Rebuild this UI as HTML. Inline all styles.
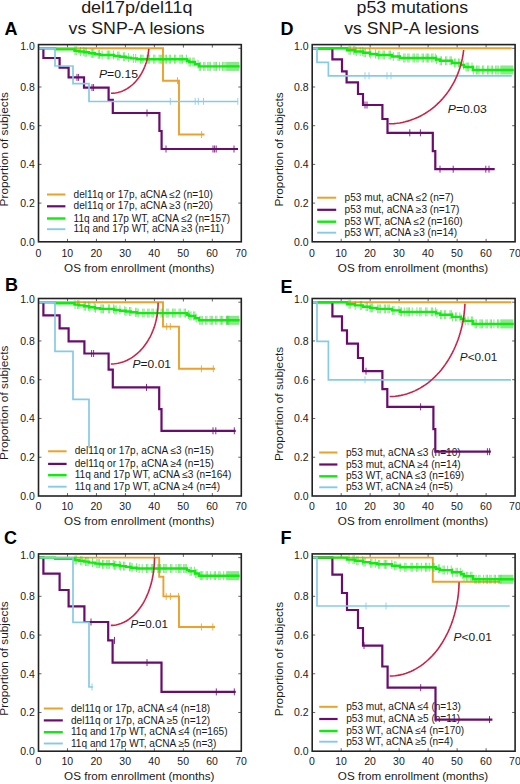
<!DOCTYPE html><html><head><meta charset="utf-8"><style>html,body{margin:0;padding:0;background:#fff;}svg{display:block;}text{font-family:"Liberation Sans", sans-serif;}</style></head><body>
<svg width="520" height="784" viewBox="0 0 520 784">
<rect width="520" height="784" fill="#fff"/>
<text x="136.8" y="13.3" font-size="16.4" text-anchor="middle" font-weight="normal" font-style="normal" fill="#1a1a1a" textLength="111.3" lengthAdjust="spacingAndGlyphs">del17p/del11q</text>
<text x="136.6" y="34" font-size="16.4" text-anchor="middle" font-weight="normal" font-style="normal" fill="#1a1a1a" textLength="136" lengthAdjust="spacingAndGlyphs">vs SNP-A lesions</text>
<text x="412.3" y="13.4" font-size="16.4" text-anchor="middle" font-weight="normal" font-style="normal" fill="#1a1a1a" textLength="111.5" lengthAdjust="spacingAndGlyphs">p53 mutations</text>
<text x="411.7" y="34" font-size="16.4" text-anchor="middle" font-weight="normal" font-style="normal" fill="#1a1a1a" textLength="135" lengthAdjust="spacingAndGlyphs">vs SNP-A lesions</text>
<text x="4.6" y="34.6" font-size="18" text-anchor="start" font-weight="bold" font-style="normal" fill="#000">A</text>
<text x="4.9" y="290.8" font-size="18" text-anchor="start" font-weight="bold" font-style="normal" fill="#000">B</text>
<text x="3.9" y="543.6" font-size="18" text-anchor="start" font-weight="bold" font-style="normal" fill="#000">C</text>
<text x="280.4" y="34.7" font-size="18" text-anchor="start" font-weight="bold" font-style="normal" fill="#000">D</text>
<text x="280.6" y="292.5" font-size="18" text-anchor="start" font-weight="bold" font-style="normal" fill="#000">E</text>
<text x="280.6" y="543.8" font-size="18" text-anchor="start" font-weight="bold" font-style="normal" fill="#000">F</text>
<path d="M67.47 241.8v-3M67.47 44.6v3M96.44 241.8v-3M96.44 44.6v3M125.41 241.8v-3M125.41 44.6v3M154.39 241.8v-3M154.39 44.6v3M183.36 241.8v-3M183.36 44.6v3M212.33 241.8v-3M212.33 44.6v3M38.5 203.1h3M241.3 203.1h-3M38.5 164.4h3M241.3 164.4h-3M38.5 125.7h3M241.3 125.7h-3M38.5 87h3M241.3 87h-3M38.5 48.3h3M241.3 48.3h-3" stroke="#666" stroke-width="1" fill="none"/>
<text x="34.8" y="245.7" font-size="10.5" text-anchor="end" font-weight="normal" font-style="normal" fill="#1a1a1a">0.0</text>
<text x="34.8" y="207" font-size="10.5" text-anchor="end" font-weight="normal" font-style="normal" fill="#1a1a1a">0.2</text>
<text x="34.8" y="168.3" font-size="10.5" text-anchor="end" font-weight="normal" font-style="normal" fill="#1a1a1a">0.4</text>
<text x="34.8" y="129.6" font-size="10.5" text-anchor="end" font-weight="normal" font-style="normal" fill="#1a1a1a">0.6</text>
<text x="34.8" y="90.9" font-size="10.5" text-anchor="end" font-weight="normal" font-style="normal" fill="#1a1a1a">0.8</text>
<text x="34.8" y="49.5" font-size="10.5" text-anchor="end" font-weight="normal" font-style="normal" fill="#1a1a1a">1.0</text>
<text x="38.3" y="256.8" font-size="10.5" text-anchor="middle" font-weight="normal" font-style="normal" fill="#1a1a1a">0</text>
<text x="67.27" y="256.8" font-size="10.5" text-anchor="middle" font-weight="normal" font-style="normal" fill="#1a1a1a">10</text>
<text x="96.24" y="256.8" font-size="10.5" text-anchor="middle" font-weight="normal" font-style="normal" fill="#1a1a1a">20</text>
<text x="125.21" y="256.8" font-size="10.5" text-anchor="middle" font-weight="normal" font-style="normal" fill="#1a1a1a">30</text>
<text x="154.19" y="256.8" font-size="10.5" text-anchor="middle" font-weight="normal" font-style="normal" fill="#1a1a1a">40</text>
<text x="183.16" y="256.8" font-size="10.5" text-anchor="middle" font-weight="normal" font-style="normal" fill="#1a1a1a">50</text>
<text x="212.13" y="256.8" font-size="10.5" text-anchor="middle" font-weight="normal" font-style="normal" fill="#1a1a1a">60</text>
<text x="241.1" y="256.8" font-size="10.5" text-anchor="middle" font-weight="normal" font-style="normal" fill="#1a1a1a">70</text>
<text x="139.3" y="271.5" font-size="11.7" text-anchor="middle" font-weight="normal" font-style="normal" fill="#1a1a1a" textLength="150.4" lengthAdjust="spacingAndGlyphs">OS from enrollment (months)</text>
<text x="0" y="0" font-size="11.6" text-anchor="middle" fill="#1a1a1a" textLength="114.3" lengthAdjust="spacingAndGlyphs" transform="translate(8.4 149.3) rotate(-90)">Proportion of subjects</text>
<path d="M47 194.5H65.4" stroke="#eba12a" stroke-width="2.0"/>
<text x="73.6" y="197.6" font-size="10.1" text-anchor="start" font-weight="normal" font-style="normal" fill="#1a1a1a">del11q or 17p, aCNA &#8804;2 (n=10)</text>
<path d="M47 206.3H65.4" stroke="#690c6e" stroke-width="2.2"/>
<text x="73.6" y="209.4" font-size="10.1" text-anchor="start" font-weight="normal" font-style="normal" fill="#1a1a1a">del11q or 17p, aCNA &#8805;3 (n=20)</text>
<path d="M47 218.5H65.4" stroke="#0aee0a" stroke-width="2.4"/>
<text x="73.6" y="221.6" font-size="10.1" text-anchor="start" font-weight="normal" font-style="normal" fill="#1a1a1a">11q and 17p WT, aCNA &#8804;2 (n=157)</text>
<path d="M47 229.2H65.4" stroke="#86cbe6" stroke-width="1.9"/>
<text x="73.6" y="232.3" font-size="10.1" text-anchor="start" font-weight="normal" font-style="normal" fill="#1a1a1a">11q and 17p WT, aCNA &#8805;3 (n=11)</text>
<path d="M38.5 48.3H163V80.7H179V134.5H204.5" fill="none" stroke="#eba12a" stroke-width="1.9" stroke-linejoin="miter" stroke-linecap="butt"/>
<path d="M177.5 77.2v7" stroke="#eba12a" stroke-width="1.0" opacity="0.85" fill="none"/>
<path d="M201.6 131v7" stroke="#eba12a" stroke-width="1.0" opacity="0.85" fill="none"/>
<path d="M38.5 48.3H43.4V58H59.6V67.6H68.6V77.4H84V87.6H108.6V99.8H112.8V113H159.4V131H161.6V149H238" fill="none" stroke="#690c6e" stroke-width="2.2" stroke-linejoin="miter" stroke-linecap="butt"/>
<path d="M77 73.9v7M78.6 73.9v7" stroke="#690c6e" stroke-width="1.0" opacity="0.85" fill="none"/>
<path d="M92 84.1v7M93.6 84.1v7" stroke="#690c6e" stroke-width="1.0" opacity="0.85" fill="none"/>
<path d="M147 109.5v7" stroke="#690c6e" stroke-width="1.0" opacity="0.85" fill="none"/>
<path d="M166 145.5v7M213 145.5v7M214.6 145.5v7M216.2 145.5v7M234 145.5v7" stroke="#690c6e" stroke-width="1.0" opacity="0.85" fill="none"/>
<path d="M75 46.2v9M76.3 46.2v9M80.59 47v9M83.76 47v9M85.06 47.8v9M86.36 47.8v9M91.23 48.8v9M92.53 48.8v9M93.83 48.8v9M98.25 49.8v9M99.55 49.8v9M102.14 50.5v9M107.2 50.5v9M108.5 50.5v9M109.8 50.5v9M113.4 50.5v9M117.73 51.5v9M119.03 51.5v9M123.39 52.3v9M124.69 52.3v9M128.62 53.1v9M133.35 53.9v9M135.7 53.9v9M140.43 54.7v9M141.73 54.7v9M143.03 54.7v9M147.05 54.7v9M148.35 54.7v9M149.65 54.7v9M153.69 54.7v9M154.99 54.7v9M159.05 54.7v9M160.35 54.7v9M161.65 54.7v9M165.18 54.7v9M166.48 54.7v9M169.28 54.7v9M170.58 54.7v9M174.45 54.7v9M175.75 54.7v9M179.89 54.7v9M181.19 54.7v9M182.49 54.7v9M186.39 54.7v9M189.03 57.5v9M190.33 57.5v9M192.84 57.5v9M194.14 57.5v9M197.98 59.7v9M199.28 61.9v9M200.58 61.9v9M203.7 61.9v9M205 61.9v9M207.77 61.9v9M209.07 61.9v9M210.37 61.9v9M213.93 61.9v9M215.23 61.9v9M216.53 61.9v9M219.65 61.9v9M222.58 61.9v9M223.88 61.9v9M225.18 61.9v9M226.7 61.9v9M227.7 61.9v9M228.7 61.9v9M229.7 61.9v9M230.7 61.9v9M231.7 61.9v9M232.7 61.9v9M233.7 61.9v9M234.7 61.9v9M235.7 61.9v9M236.7 61.9v9M237.7 61.9v9M238.7 61.9v9" stroke="#2ad42a" stroke-width="1" opacity="0.6" fill="none"/>
<path d="M38.5 48.3H55V49.4H74.5V50.7H79V51.5H84V52.3H89V53.3H95V54.3H100V55H114V56H120V56.8H126V57.6H131V58.4H137V59.2H187V60.8H189V62H195V64.2H199V66.4H239.7" fill="none" stroke="#0aee0a" stroke-width="2.4" stroke-linejoin="miter" stroke-linecap="butt"/>
<path d="M38.5 48.3H55V66H73V83.7H89V101.5H237.8" fill="none" stroke="#86cbe6" stroke-width="1.7" stroke-linejoin="miter" stroke-linecap="butt"/>
<path d="M170.3 97.8v7M195.2 97.8v7M198.3 97.8v7M203.5 97.8v7M237.8 97.8v7" stroke="#86cbe6" stroke-width="1.0" opacity="0.85" fill="none"/>
<path d="M111 93.3 L112.4 93.27 L113.79 93.17 L115.18 93 L116.57 92.77 L117.95 92.47 L119.32 92.1 L120.68 91.67 L122.02 91.18 L123.35 90.62 L124.66 90 L125.96 89.32 L127.23 88.58 L128.49 87.77 L129.71 86.91 L130.92 85.99 L132.09 85.01 L133.24 83.97 L134.36 82.88 L135.45 81.74 L136.5 80.55 L137.52 79.31 L138.5 78.02 L139.45 76.69 L140.35 75.31 L141.22 73.89 L142.05 72.42 L142.83 70.92 L143.57 69.39 L144.27 67.81 L144.92 66.21 L145.53 64.58 L146.09 62.92 L146.6 61.23 L147.07 59.52 L147.48 57.79 L147.85 56.04 L148.17 54.27 L148.43 52.49 L148.65 50.7 L148.81 48.9" fill="none" stroke="#cc2246" stroke-width="1.6"/>
<text x="99" y="78.1" font-size="11.7" fill="#1a1a1a" textLength="39" lengthAdjust="spacingAndGlyphs"><tspan font-style="italic">P</tspan>=0.15</text>
<rect x="38.5" y="44.6" width="202.8" height="197.2" fill="none" stroke="#222" stroke-width="1.6"/>
<path d="M67.47 496v-3M67.47 298.5v3M96.44 496v-3M96.44 298.5v3M125.41 496v-3M125.41 298.5v3M154.39 496v-3M154.39 298.5v3M183.36 496v-3M183.36 298.5v3M212.33 496v-3M212.33 298.5v3M38.5 457.24h3M241.3 457.24h-3M38.5 418.48h3M241.3 418.48h-3M38.5 379.72h3M241.3 379.72h-3M38.5 340.96h3M241.3 340.96h-3M38.5 302.2h3M241.3 302.2h-3" stroke="#666" stroke-width="1" fill="none"/>
<text x="34.8" y="499.9" font-size="10.5" text-anchor="end" font-weight="normal" font-style="normal" fill="#1a1a1a">0.0</text>
<text x="34.8" y="461.14" font-size="10.5" text-anchor="end" font-weight="normal" font-style="normal" fill="#1a1a1a">0.2</text>
<text x="34.8" y="422.38" font-size="10.5" text-anchor="end" font-weight="normal" font-style="normal" fill="#1a1a1a">0.4</text>
<text x="34.8" y="383.62" font-size="10.5" text-anchor="end" font-weight="normal" font-style="normal" fill="#1a1a1a">0.6</text>
<text x="34.8" y="344.86" font-size="10.5" text-anchor="end" font-weight="normal" font-style="normal" fill="#1a1a1a">0.8</text>
<text x="34.8" y="303.4" font-size="10.5" text-anchor="end" font-weight="normal" font-style="normal" fill="#1a1a1a">1.0</text>
<text x="38.3" y="509.8" font-size="10.5" text-anchor="middle" font-weight="normal" font-style="normal" fill="#1a1a1a">0</text>
<text x="67.27" y="509.8" font-size="10.5" text-anchor="middle" font-weight="normal" font-style="normal" fill="#1a1a1a">10</text>
<text x="96.24" y="509.8" font-size="10.5" text-anchor="middle" font-weight="normal" font-style="normal" fill="#1a1a1a">20</text>
<text x="125.21" y="509.8" font-size="10.5" text-anchor="middle" font-weight="normal" font-style="normal" fill="#1a1a1a">30</text>
<text x="154.19" y="509.8" font-size="10.5" text-anchor="middle" font-weight="normal" font-style="normal" fill="#1a1a1a">40</text>
<text x="183.16" y="509.8" font-size="10.5" text-anchor="middle" font-weight="normal" font-style="normal" fill="#1a1a1a">50</text>
<text x="212.13" y="509.8" font-size="10.5" text-anchor="middle" font-weight="normal" font-style="normal" fill="#1a1a1a">60</text>
<text x="241.1" y="509.8" font-size="10.5" text-anchor="middle" font-weight="normal" font-style="normal" fill="#1a1a1a">70</text>
<text x="139.3" y="524.6" font-size="11.7" text-anchor="middle" font-weight="normal" font-style="normal" fill="#1a1a1a" textLength="150.4" lengthAdjust="spacingAndGlyphs">OS from enrollment (months)</text>
<text x="0" y="0" font-size="11.6" text-anchor="middle" fill="#1a1a1a" textLength="114.3" lengthAdjust="spacingAndGlyphs" transform="translate(8.4 402.8) rotate(-90)">Proportion of subjects</text>
<path d="M48.1 451.3H66.6" stroke="#eba12a" stroke-width="2.0"/>
<text x="74.7" y="454.4" font-size="10.1" text-anchor="start" font-weight="normal" font-style="normal" fill="#1a1a1a">del11q or 17p, aCNA &#8804;3 (n=15)</text>
<path d="M48.1 463.9H66.6" stroke="#690c6e" stroke-width="2.2"/>
<text x="74.7" y="467" font-size="10.1" text-anchor="start" font-weight="normal" font-style="normal" fill="#1a1a1a">del11q or 17p, aCNA &#8805;4 (n=15)</text>
<path d="M48.1 475.2H66.6" stroke="#0aee0a" stroke-width="2.4"/>
<text x="74.7" y="478.3" font-size="10.1" text-anchor="start" font-weight="normal" font-style="normal" fill="#1a1a1a">11q and 17p WT, aCNA &#8804;3 (n=164)</text>
<path d="M48.1 486.7H66.6" stroke="#86cbe6" stroke-width="1.9"/>
<text x="74.7" y="489.8" font-size="10.1" text-anchor="start" font-weight="normal" font-style="normal" fill="#1a1a1a">11q and 17p WT, aCNA &#8805;4 (n=4)</text>
<path d="M38.5 302.2H163V326.6H179V368.8H215" fill="none" stroke="#eba12a" stroke-width="1.9" stroke-linejoin="miter" stroke-linecap="butt"/>
<path d="M166.7 323.1v7M170.3 323.1v7" stroke="#eba12a" stroke-width="1.0" opacity="0.85" fill="none"/>
<path d="M201.4 365.3v7M213.3 365.3v7" stroke="#eba12a" stroke-width="1.0" opacity="0.85" fill="none"/>
<path d="M38.5 302.2H43.4V315.4H59.6V328.4H68.6V341.4H84.4V353.5H108.6V369.7H112.8V387.4H159.2V409.2H161.5V430.8H235.7" fill="none" stroke="#690c6e" stroke-width="2.2" stroke-linejoin="miter" stroke-linecap="butt"/>
<path d="M91.6 350v7M93.6 350v7" stroke="#690c6e" stroke-width="1.0" opacity="0.85" fill="none"/>
<path d="M146.5 383.9v7" stroke="#690c6e" stroke-width="1.0" opacity="0.85" fill="none"/>
<path d="M213 427.3v7M215.8 427.3v7M234.3 427.3v7" stroke="#690c6e" stroke-width="1.0" opacity="0.85" fill="none"/>
<path d="M75 300.1v9M77.62 300.1v9M78.92 300.1v9M84.11 301.7v9M85.41 301.7v9M88.56 301.7v9M89.86 302.7v9M94.16 302.7v9M95.46 303.7v9M100.96 304.4v9M102.26 304.4v9M103.56 304.4v9M108.36 304.4v9M109.66 304.4v9M113.59 304.4v9M114.89 305.4v9M116.19 305.4v9M119.95 305.4v9M124.71 306.2v9M126.01 307v9M129.58 307v9M130.88 307v9M135.61 307.8v9M136.91 307.8v9M138.21 308.6v9M142.81 308.6v9M144.11 308.6v9M147.79 308.6v9M149.09 308.6v9M151.95 308.6v9M153.25 308.6v9M156.3 308.6v9M157.6 308.6v9M161.06 308.6v9M162.36 308.6v9M166.85 308.6v9M168.15 308.6v9M172.55 308.6v9M173.85 308.6v9M175.15 308.6v9M179.06 308.6v9M180.36 308.6v9M184.17 308.6v9M185.47 308.6v9M188.44 310.2v9M189.74 311.4v9M191.04 311.4v9M193.63 311.4v9M194.93 311.4v9M196.23 313.6v9M199.74 315.8v9M201.04 315.8v9M202.34 315.8v9M205.69 315.8v9M206.99 315.8v9M210.04 315.8v9M211.34 315.8v9M212.64 315.8v9M215.66 315.8v9M216.96 315.8v9M220.17 315.8v9M221.47 315.8v9M222.77 315.8v9M226.23 315.8v9M227.53 315.8v9M228.83 315.8v9M226.7 315.8v9M227.7 315.8v9M228.7 315.8v9M229.7 315.8v9M230.7 315.8v9M231.7 315.8v9M232.7 315.8v9M233.7 315.8v9M234.7 315.8v9M235.7 315.8v9M236.7 315.8v9M237.7 315.8v9M238.7 315.8v9" stroke="#2ad42a" stroke-width="1" opacity="0.6" fill="none"/>
<path d="M38.5 302.2H55V303.3H74.5V304.6H79V305.4H84V306.2H89V307.2H95V308.2H100V308.9H114V309.9H120V310.7H126V311.5H131V312.3H137V313.1H187V314.7H189V315.9H195V318.1H199V320.3H239.7" fill="none" stroke="#0aee0a" stroke-width="2.4" stroke-linejoin="miter" stroke-linecap="butt"/>
<path d="M38.5 302.2H55V351.4H73V399.4H89V447.6" fill="none" stroke="#86cbe6" stroke-width="1.7" stroke-linejoin="miter" stroke-linecap="butt"/>
<path d="M110.8 364 L112.66 363.95 L114.51 363.81 L116.36 363.58 L118.2 363.25 L120.03 362.82 L121.84 362.31 L123.64 361.7 L125.42 361 L127.17 360.21 L128.9 359.33 L130.6 358.37 L132.27 357.32 L133.91 356.18 L135.51 354.97 L137.08 353.67 L138.6 352.29 L140.08 350.84 L141.52 349.31 L142.91 347.71 L144.25 346.05 L145.53 344.31 L146.77 342.51 L147.95 340.65 L149.07 338.73 L150.13 336.76 L151.13 334.73 L152.07 332.65 L152.94 330.53 L153.76 328.36 L154.5 326.16 L155.18 323.92 L155.78 321.64 L156.32 319.34 L156.79 317.01 L157.19 314.66 L157.52 312.29 L157.77 309.91 L157.95 307.51 L158.06 305.11 L158.1 302.7" fill="none" stroke="#cc2246" stroke-width="1.6"/>
<text x="132.6" y="367.8" font-size="11.7" fill="#1a1a1a" textLength="38.4" lengthAdjust="spacingAndGlyphs"><tspan font-style="italic">P</tspan>=0.01</text>
<rect x="38.5" y="298.5" width="202.8" height="197.5" fill="none" stroke="#222" stroke-width="1.6"/>
<path d="M67.47 751.2v-3M67.47 553.9v3M96.44 751.2v-3M96.44 553.9v3M125.41 751.2v-3M125.41 553.9v3M154.39 751.2v-3M154.39 553.9v3M183.36 751.2v-3M183.36 553.9v3M212.33 751.2v-3M212.33 553.9v3M38.5 712.48h3M241.3 712.48h-3M38.5 673.76h3M241.3 673.76h-3M38.5 635.04h3M241.3 635.04h-3M38.5 596.32h3M241.3 596.32h-3M38.5 557.6h3M241.3 557.6h-3" stroke="#666" stroke-width="1" fill="none"/>
<text x="34.8" y="755.1" font-size="10.5" text-anchor="end" font-weight="normal" font-style="normal" fill="#1a1a1a">0.0</text>
<text x="34.8" y="716.38" font-size="10.5" text-anchor="end" font-weight="normal" font-style="normal" fill="#1a1a1a">0.2</text>
<text x="34.8" y="677.66" font-size="10.5" text-anchor="end" font-weight="normal" font-style="normal" fill="#1a1a1a">0.4</text>
<text x="34.8" y="638.94" font-size="10.5" text-anchor="end" font-weight="normal" font-style="normal" fill="#1a1a1a">0.6</text>
<text x="34.8" y="600.22" font-size="10.5" text-anchor="end" font-weight="normal" font-style="normal" fill="#1a1a1a">0.8</text>
<text x="34.8" y="558.8" font-size="10.5" text-anchor="end" font-weight="normal" font-style="normal" fill="#1a1a1a">1.0</text>
<text x="38.3" y="765.1" font-size="10.5" text-anchor="middle" font-weight="normal" font-style="normal" fill="#1a1a1a">0</text>
<text x="67.27" y="765.1" font-size="10.5" text-anchor="middle" font-weight="normal" font-style="normal" fill="#1a1a1a">10</text>
<text x="96.24" y="765.1" font-size="10.5" text-anchor="middle" font-weight="normal" font-style="normal" fill="#1a1a1a">20</text>
<text x="125.21" y="765.1" font-size="10.5" text-anchor="middle" font-weight="normal" font-style="normal" fill="#1a1a1a">30</text>
<text x="154.19" y="765.1" font-size="10.5" text-anchor="middle" font-weight="normal" font-style="normal" fill="#1a1a1a">40</text>
<text x="183.16" y="765.1" font-size="10.5" text-anchor="middle" font-weight="normal" font-style="normal" fill="#1a1a1a">50</text>
<text x="212.13" y="765.1" font-size="10.5" text-anchor="middle" font-weight="normal" font-style="normal" fill="#1a1a1a">60</text>
<text x="241.1" y="765.1" font-size="10.5" text-anchor="middle" font-weight="normal" font-style="normal" fill="#1a1a1a">70</text>
<text x="139.3" y="780" font-size="11.7" text-anchor="middle" font-weight="normal" font-style="normal" fill="#1a1a1a" textLength="150.4" lengthAdjust="spacingAndGlyphs">OS from enrollment (months)</text>
<text x="0" y="0" font-size="11.6" text-anchor="middle" fill="#1a1a1a" textLength="114.3" lengthAdjust="spacingAndGlyphs" transform="translate(8.4 658.5) rotate(-90)">Proportion of subjects</text>
<path d="M43.8 708.5H62.8" stroke="#eba12a" stroke-width="2.0"/>
<text x="71" y="711.6" font-size="10.1" text-anchor="start" font-weight="normal" font-style="normal" fill="#1a1a1a">del11q or 17p, aCNA &#8804;4 (n=18)</text>
<path d="M43.8 720.4H62.8" stroke="#690c6e" stroke-width="2.2"/>
<text x="71" y="723.5" font-size="10.1" text-anchor="start" font-weight="normal" font-style="normal" fill="#1a1a1a">del11q or 17p, aCNA &#8805;5 (n=12)</text>
<path d="M43.8 732.2H62.8" stroke="#0aee0a" stroke-width="2.4"/>
<text x="71" y="735.3" font-size="10.1" text-anchor="start" font-weight="normal" font-style="normal" fill="#1a1a1a">11q and 17p WT, aCNA &#8804;4 (n=165)</text>
<path d="M43.8 743.5H62.8" stroke="#86cbe6" stroke-width="1.9"/>
<text x="71" y="746.6" font-size="10.1" text-anchor="start" font-weight="normal" font-style="normal" fill="#1a1a1a">11q and 17p WT, aCNA &#8805;5 (n=3)</text>
<path d="M38.5 557.6H159.2V576.8H163.4V596.4H179V627H215" fill="none" stroke="#eba12a" stroke-width="1.9" stroke-linejoin="miter" stroke-linecap="butt"/>
<path d="M166.2 592.9v7M170.4 592.9v7M178.5 592.9v7" stroke="#eba12a" stroke-width="1.0" opacity="0.85" fill="none"/>
<path d="M201.4 623.5v7M212.8 623.5v7" stroke="#eba12a" stroke-width="1.0" opacity="0.85" fill="none"/>
<path d="M38.5 557.6H43.4V573.6H59.6V590H68.6V606.4H84.4V622H108.2V640.4H112.6V662.6H161.5V691.9H235.7" fill="none" stroke="#690c6e" stroke-width="2.2" stroke-linejoin="miter" stroke-linecap="butt"/>
<path d="M91 618.5v7" stroke="#690c6e" stroke-width="1.0" opacity="0.85" fill="none"/>
<path d="M114.5 636.9v7" stroke="#690c6e" stroke-width="1.0" opacity="0.85" fill="none"/>
<path d="M147 659.1v7" stroke="#690c6e" stroke-width="1.0" opacity="0.85" fill="none"/>
<path d="M216.3 688.4v7M234.3 688.4v7" stroke="#690c6e" stroke-width="1.0" opacity="0.85" fill="none"/>
<path d="M75 555.5v9M76.3 555.5v9M80.67 556.3v9M81.97 556.3v9M85.54 557.1v9M86.84 557.1v9M88.14 557.1v9M92.53 558.1v9M96.79 559.1v9M98.09 559.1v9M99.39 559.1v9M102.51 559.8v9M103.81 559.8v9M106.7 559.8v9M108 559.8v9M109.3 559.8v9M113.23 559.8v9M114.53 560.8v9M115.83 560.8v9M119.29 560.8v9M120.59 561.6v9M123.55 561.6v9M124.85 561.6v9M129.55 562.4v9M130.85 562.4v9M132.15 563.2v9M136.43 563.2v9M139.14 564v9M142.2 564v9M146.54 564v9M147.84 564v9M151.28 564v9M152.58 564v9M153.88 564v9M157.85 564v9M159.15 564v9M160.45 564v9M163.64 564v9M164.94 564v9M166.24 564v9M170.62 564v9M171.92 564v9M176.02 564v9M178.39 564v9M179.69 564v9M180.99 564v9M183.71 564v9M185.01 564v9M186.31 564v9M190.05 566.8v9M191.35 566.8v9M194.39 566.8v9M195.69 569v9M196.99 569v9M200.25 571.2v9M201.55 571.2v9M202.85 571.2v9M206.09 571.2v9M207.39 571.2v9M210.72 571.2v9M214.25 571.2v9M215.55 571.2v9M218.82 571.2v9M220.12 571.2v9M223.69 571.2v9M226.7 571.2v9M227.7 571.2v9M228.7 571.2v9M229.7 571.2v9M230.7 571.2v9M231.7 571.2v9M232.7 571.2v9M233.7 571.2v9M234.7 571.2v9M235.7 571.2v9M236.7 571.2v9M237.7 571.2v9M238.7 571.2v9" stroke="#2ad42a" stroke-width="1" opacity="0.6" fill="none"/>
<path d="M38.5 557.6H55V558.7H74.5V560H79V560.8H84V561.6H89V562.6H95V563.6H100V564.3H114V565.3H120V566.1H126V566.9H131V567.7H137V568.5H187V570.1H189V571.3H195V573.5H199V575.7H239.7" fill="none" stroke="#0aee0a" stroke-width="2.4" stroke-linejoin="miter" stroke-linecap="butt"/>
<path d="M38.5 557.6H73V622.4H89V687H93" fill="none" stroke="#86cbe6" stroke-width="1.7" stroke-linejoin="miter" stroke-linecap="butt"/>
<path d="M92 683.5v7" stroke="#86cbe6" stroke-width="1.0" opacity="0.85" fill="none"/>
<path d="M110.8 625.4 L112.52 625.35 L114.23 625.19 L115.94 624.93 L117.64 624.56 L119.33 624.09 L121 623.52 L122.66 622.85 L124.3 622.07 L125.93 621.2 L127.52 620.22 L129.1 619.15 L130.64 617.99 L132.15 616.73 L133.63 615.38 L135.08 613.94 L136.49 612.41 L137.85 610.8 L139.18 609.11 L140.46 607.33 L141.7 605.48 L142.89 603.56 L144.03 601.56 L145.12 599.5 L146.15 597.37 L147.14 595.18 L148.06 592.93 L148.93 590.63 L149.74 588.27 L150.49 585.87 L151.17 583.42 L151.8 580.94 L152.36 578.41 L152.86 575.86 L153.29 573.27 L153.66 570.67 L153.96 568.04 L154.2 565.39 L154.37 562.74 L154.47 560.07 L154.5 557.4" fill="none" stroke="#cc2246" stroke-width="1.6"/>
<text x="130.6" y="628.3" font-size="11.7" fill="#1a1a1a" textLength="37.3" lengthAdjust="spacingAndGlyphs"><tspan font-style="italic">P</tspan>=0.01</text>
<rect x="38.5" y="553.9" width="202.8" height="197.3" fill="none" stroke="#222" stroke-width="1.6"/>
<path d="M341.19 241.8v-3M341.19 44.6v3M370.17 241.8v-3M370.17 44.6v3M399.16 241.8v-3M399.16 44.6v3M428.14 241.8v-3M428.14 44.6v3M457.13 241.8v-3M457.13 44.6v3M486.11 241.8v-3M486.11 44.6v3M312.2 203.1h3M515.1 203.1h-3M312.2 164.4h3M515.1 164.4h-3M312.2 125.7h3M515.1 125.7h-3M312.2 87h3M515.1 87h-3M312.2 48.3h3M515.1 48.3h-3" stroke="#666" stroke-width="1" fill="none"/>
<text x="308.5" y="245.7" font-size="10.5" text-anchor="end" font-weight="normal" font-style="normal" fill="#1a1a1a">0.0</text>
<text x="308.5" y="207" font-size="10.5" text-anchor="end" font-weight="normal" font-style="normal" fill="#1a1a1a">0.2</text>
<text x="308.5" y="168.3" font-size="10.5" text-anchor="end" font-weight="normal" font-style="normal" fill="#1a1a1a">0.4</text>
<text x="308.5" y="129.6" font-size="10.5" text-anchor="end" font-weight="normal" font-style="normal" fill="#1a1a1a">0.6</text>
<text x="308.5" y="90.9" font-size="10.5" text-anchor="end" font-weight="normal" font-style="normal" fill="#1a1a1a">0.8</text>
<text x="308.5" y="49.5" font-size="10.5" text-anchor="end" font-weight="normal" font-style="normal" fill="#1a1a1a">1.0</text>
<text x="312" y="256.8" font-size="10.5" text-anchor="middle" font-weight="normal" font-style="normal" fill="#1a1a1a">0</text>
<text x="340.99" y="256.8" font-size="10.5" text-anchor="middle" font-weight="normal" font-style="normal" fill="#1a1a1a">10</text>
<text x="369.97" y="256.8" font-size="10.5" text-anchor="middle" font-weight="normal" font-style="normal" fill="#1a1a1a">20</text>
<text x="398.96" y="256.8" font-size="10.5" text-anchor="middle" font-weight="normal" font-style="normal" fill="#1a1a1a">30</text>
<text x="427.94" y="256.8" font-size="10.5" text-anchor="middle" font-weight="normal" font-style="normal" fill="#1a1a1a">40</text>
<text x="456.93" y="256.8" font-size="10.5" text-anchor="middle" font-weight="normal" font-style="normal" fill="#1a1a1a">50</text>
<text x="485.91" y="256.8" font-size="10.5" text-anchor="middle" font-weight="normal" font-style="normal" fill="#1a1a1a">60</text>
<text x="514.9" y="256.8" font-size="10.5" text-anchor="middle" font-weight="normal" font-style="normal" fill="#1a1a1a">70</text>
<text x="413.05" y="271.5" font-size="11.7" text-anchor="middle" font-weight="normal" font-style="normal" fill="#1a1a1a" textLength="150.4" lengthAdjust="spacingAndGlyphs">OS from enrollment (months)</text>
<text x="0" y="0" font-size="11.6" text-anchor="middle" fill="#1a1a1a" textLength="114.3" lengthAdjust="spacingAndGlyphs" transform="translate(282.5 149.4) rotate(-90)">Proportion of subjects</text>
<path d="M317.2 197.7H336.2" stroke="#eba12a" stroke-width="2.0"/>
<text x="344.6" y="200.8" font-size="10.1" text-anchor="start" font-weight="normal" font-style="normal" fill="#1a1a1a">p53 mut, aCNA &#8804;2 (n=7)</text>
<path d="M317.2 209.8H336.2" stroke="#690c6e" stroke-width="2.2"/>
<text x="344.6" y="212.9" font-size="10.1" text-anchor="start" font-weight="normal" font-style="normal" fill="#1a1a1a">p53 mut, aCNA &#8805;3 (n=17)</text>
<path d="M317.2 221.7H336.2" stroke="#0aee0a" stroke-width="2.4"/>
<text x="344.6" y="224.8" font-size="10.1" text-anchor="start" font-weight="normal" font-style="normal" fill="#1a1a1a">p53 WT, aCNA &#8804;2 (n=160)</text>
<path d="M317.2 232.7H336.2" stroke="#86cbe6" stroke-width="1.9"/>
<text x="344.6" y="235.8" font-size="10.1" text-anchor="start" font-weight="normal" font-style="normal" fill="#1a1a1a">p53 WT, aCNA &#8805;3 (n=14)</text>
<path d="M312.2 48.3H511.8" fill="none" stroke="#eba12a" stroke-width="1.9" stroke-linejoin="miter" stroke-linecap="butt"/>
<path d="M312.2 48.3H332.4V59.4H342V71.4H346.6V82.4H358V94H363V105H382.4V119H387.5V132.8H432.8V151.2H435.3V169.2H494.7" fill="none" stroke="#690c6e" stroke-width="2.2" stroke-linejoin="miter" stroke-linecap="butt"/>
<path d="M365 101.5v7M367 101.5v7" stroke="#690c6e" stroke-width="1.0" opacity="0.85" fill="none"/>
<path d="M409.8 129.3v7M420.4 129.3v7" stroke="#690c6e" stroke-width="1.0" opacity="0.85" fill="none"/>
<path d="M440 165.7v7M453.2 165.7v7M485.8 165.7v7M489 165.7v7" stroke="#690c6e" stroke-width="1.0" opacity="0.85" fill="none"/>
<path d="M349 45.8v9M350.3 45.8v9M353.66 45.8v9M354.96 45.8v9M356.26 47v9M360.2 47v9M362.73 47v9M364.03 48.3v9M365.33 48.3v9M369.43 48.3v9M370.73 49.5v9M375.59 49.5v9M378.57 50.5v9M379.87 50.5v9M383.02 50.5v9M384.32 50.5v9M389.09 50.5v9M390.39 50.5v9M393.31 52v9M397.95 52v9M399.25 52v9M403.76 53.5v9M405.06 53.5v9M407.8 53.5v9M409.1 53.5v9M413.03 53.5v9M414.33 53.5v9M416.85 53.5v9M418.15 53.5v9M422.11 53.5v9M423.41 53.5v9M426.14 53.5v9M427.44 53.5v9M428.74 53.5v9M431.69 53.5v9M432.99 53.5v9M435.3 53.5v9M436.6 55v9M440.16 56.3v9M441.46 56.3v9M445.55 56.3v9M446.85 56.3v9M450 56.3v9M451.3 56.3v9M454.45 58.5v9M455.75 58.5v9M458.49 58.5v9M459.79 58.5v9M463.58 60.5v9M466.03 62.5v9M467.33 62.5v9M468.63 62.5v9M472.01 62.5v9M473.31 65.5v9M476.45 65.5v9M477.75 65.5v9M479.05 65.5v9M482.45 65.5v9M483.75 65.5v9M487.52 65.5v9M488.82 65.5v9M491.22 65.5v9M492.52 65.5v9M495.67 65.5v9M496.97 65.5v9M498.27 65.5v9M500.8 65.5v9M501.8 65.5v9M502.8 65.5v9M503.8 65.5v9M504.8 65.5v9M505.8 65.5v9M506.8 65.5v9M507.8 65.5v9M508.8 65.5v9M509.8 65.5v9M510.8 65.5v9M511.8 65.5v9M512.8 65.5v9" stroke="#2ad42a" stroke-width="1" opacity="0.6" fill="none"/>
<path d="M312.2 48.3H347V50.3H355V51.5H363V52.8H370V54H377V55H392V56.5H400V58H436V59.5H440V60.8H452V63H461V65H464V67H473V70H513.8" fill="none" stroke="#0aee0a" stroke-width="2.4" stroke-linejoin="miter" stroke-linecap="butt"/>
<path d="M312.2 48.3H317V62.4H328.4V75.8H511.8" fill="none" stroke="#86cbe6" stroke-width="1.7" stroke-linejoin="miter" stroke-linecap="butt"/>
<path d="M365 72.3v7M369 72.3v7M387 72.3v7M391 72.3v7" stroke="#86cbe6" stroke-width="1.0" opacity="0.85" fill="none"/>
<path d="M388.7 123.8 L391.44 123.74 L394.17 123.58 L396.9 123.3 L399.62 122.92 L402.32 122.43 L405.01 121.82 L407.67 121.11 L410.31 120.3 L412.92 119.37 L415.49 118.35 L418.04 117.22 L420.54 115.98 L423 114.65 L425.42 113.22 L427.79 111.69 L430.11 110.07 L432.37 108.36 L434.57 106.56 L436.72 104.67 L438.8 102.69 L440.82 100.63 L442.76 98.5 L444.64 96.28 L446.44 93.99 L448.17 91.63 L449.82 89.2 L451.38 86.71 L452.87 84.16 L454.27 81.54 L455.58 78.88 L456.81 76.16 L457.95 73.39 L458.99 70.58 L459.95 67.73 L460.81 64.85 L461.57 61.93 L462.24 58.98 L462.81 56.01 L463.28 53.01 L463.66 50" fill="none" stroke="#cc2246" stroke-width="1.6"/>
<text x="447.8" y="112.7" font-size="11.7" fill="#1a1a1a" textLength="39" lengthAdjust="spacingAndGlyphs"><tspan font-style="italic">P</tspan>=0.03</text>
<rect x="312.2" y="44.6" width="202.9" height="197.2" fill="none" stroke="#222" stroke-width="1.6"/>
<path d="M341.19 496v-3M341.19 298.5v3M370.17 496v-3M370.17 298.5v3M399.16 496v-3M399.16 298.5v3M428.14 496v-3M428.14 298.5v3M457.13 496v-3M457.13 298.5v3M486.11 496v-3M486.11 298.5v3M312.2 457.24h3M515.1 457.24h-3M312.2 418.48h3M515.1 418.48h-3M312.2 379.72h3M515.1 379.72h-3M312.2 340.96h3M515.1 340.96h-3M312.2 302.2h3M515.1 302.2h-3" stroke="#666" stroke-width="1" fill="none"/>
<text x="308.5" y="499.9" font-size="10.5" text-anchor="end" font-weight="normal" font-style="normal" fill="#1a1a1a">0.0</text>
<text x="308.5" y="461.14" font-size="10.5" text-anchor="end" font-weight="normal" font-style="normal" fill="#1a1a1a">0.2</text>
<text x="308.5" y="422.38" font-size="10.5" text-anchor="end" font-weight="normal" font-style="normal" fill="#1a1a1a">0.4</text>
<text x="308.5" y="383.62" font-size="10.5" text-anchor="end" font-weight="normal" font-style="normal" fill="#1a1a1a">0.6</text>
<text x="308.5" y="344.86" font-size="10.5" text-anchor="end" font-weight="normal" font-style="normal" fill="#1a1a1a">0.8</text>
<text x="308.5" y="303.4" font-size="10.5" text-anchor="end" font-weight="normal" font-style="normal" fill="#1a1a1a">1.0</text>
<text x="312" y="509.8" font-size="10.5" text-anchor="middle" font-weight="normal" font-style="normal" fill="#1a1a1a">0</text>
<text x="340.99" y="509.8" font-size="10.5" text-anchor="middle" font-weight="normal" font-style="normal" fill="#1a1a1a">10</text>
<text x="369.97" y="509.8" font-size="10.5" text-anchor="middle" font-weight="normal" font-style="normal" fill="#1a1a1a">20</text>
<text x="398.96" y="509.8" font-size="10.5" text-anchor="middle" font-weight="normal" font-style="normal" fill="#1a1a1a">30</text>
<text x="427.94" y="509.8" font-size="10.5" text-anchor="middle" font-weight="normal" font-style="normal" fill="#1a1a1a">40</text>
<text x="456.93" y="509.8" font-size="10.5" text-anchor="middle" font-weight="normal" font-style="normal" fill="#1a1a1a">50</text>
<text x="485.91" y="509.8" font-size="10.5" text-anchor="middle" font-weight="normal" font-style="normal" fill="#1a1a1a">60</text>
<text x="514.9" y="509.8" font-size="10.5" text-anchor="middle" font-weight="normal" font-style="normal" fill="#1a1a1a">70</text>
<text x="413.05" y="524.6" font-size="11.7" text-anchor="middle" font-weight="normal" font-style="normal" fill="#1a1a1a" textLength="150.4" lengthAdjust="spacingAndGlyphs">OS from enrollment (months)</text>
<text x="0" y="0" font-size="11.6" text-anchor="middle" fill="#1a1a1a" textLength="114.3" lengthAdjust="spacingAndGlyphs" transform="translate(282.5 403.9) rotate(-90)">Proportion of subjects</text>
<path d="M319.2 452.5H337.4" stroke="#eba12a" stroke-width="2.0"/>
<text x="346" y="455.6" font-size="10.1" text-anchor="start" font-weight="normal" font-style="normal" fill="#1a1a1a">p53 mut, aCNA &#8804;3 (n=10)</text>
<path d="M319.2 464.5H337.4" stroke="#690c6e" stroke-width="2.2"/>
<text x="346" y="467.6" font-size="10.1" text-anchor="start" font-weight="normal" font-style="normal" fill="#1a1a1a">p53 mut, aCNA &#8805;4 (n=14)</text>
<path d="M319.2 476.3H337.4" stroke="#0aee0a" stroke-width="2.4"/>
<text x="346" y="479.4" font-size="10.1" text-anchor="start" font-weight="normal" font-style="normal" fill="#1a1a1a">p53 WT, aCNA &#8804;3 (n=169)</text>
<path d="M319.2 487.3H337.4" stroke="#86cbe6" stroke-width="1.9"/>
<text x="346" y="490.4" font-size="10.1" text-anchor="start" font-weight="normal" font-style="normal" fill="#1a1a1a">p53 WT, aCNA &#8805;4 (n=5)</text>
<path d="M312.2 302.2H511.5" fill="none" stroke="#eba12a" stroke-width="1.9" stroke-linejoin="miter" stroke-linecap="butt"/>
<path d="M312.2 302.2H332.4V316.4H342V330.4H347V343.6H358V358H363V371.2H382.4V389.2H387.3V406.8H433.4V429.2H435.3V451.7H490.8" fill="none" stroke="#690c6e" stroke-width="2.2" stroke-linejoin="miter" stroke-linecap="butt"/>
<path d="M366 367.7v7" stroke="#690c6e" stroke-width="1.0" opacity="0.85" fill="none"/>
<path d="M420.6 403.3v7" stroke="#690c6e" stroke-width="1.0" opacity="0.85" fill="none"/>
<path d="M487.4 448.2v7M489.6 448.2v7" stroke="#690c6e" stroke-width="1.0" opacity="0.85" fill="none"/>
<path d="M349 299.7v9M350.3 299.7v9M355.2 300.9v9M360.36 300.9v9M361.66 300.9v9M366.12 302.2v9M367.42 302.2v9M370.08 303.4v9M371.38 303.4v9M372.68 303.4v9M377.75 304.4v9M379.05 304.4v9M380.35 304.4v9M384.31 304.4v9M385.61 304.4v9M387.95 304.4v9M389.25 304.4v9M392.74 305.9v9M394.04 305.9v9M398.94 305.9v9M400.24 307.4v9M401.54 307.4v9M404.28 307.4v9M406.95 307.4v9M408.25 307.4v9M409.55 307.4v9M412.18 307.4v9M416.95 307.4v9M419.77 307.4v9M421.07 307.4v9M425.7 307.4v9M427 307.4v9M431.33 307.4v9M432.63 307.4v9M435.64 307.4v9M436.94 308.9v9M440.42 310.2v9M441.72 310.2v9M444.4 310.2v9M445.7 310.2v9M449.99 310.2v9M451.29 310.2v9M452.59 312.4v9M455.47 312.4v9M456.77 312.4v9M459.86 312.4v9M461.16 314.4v9M463.94 314.4v9M465.24 316.4v9M468.07 316.4v9M471.38 316.4v9M472.68 316.4v9M475.08 319.4v9M476.38 319.4v9M479.98 319.4v9M481.28 319.4v9M482.58 319.4v9M485.94 319.4v9M487.24 319.4v9M490.22 319.4v9M491.52 319.4v9M493.9 319.4v9M497.43 319.4v9M498.73 319.4v9M500.8 319.4v9M501.8 319.4v9M502.8 319.4v9M503.8 319.4v9M504.8 319.4v9M505.8 319.4v9M506.8 319.4v9M507.8 319.4v9M508.8 319.4v9M509.8 319.4v9M510.8 319.4v9M511.8 319.4v9M512.8 319.4v9" stroke="#2ad42a" stroke-width="1" opacity="0.6" fill="none"/>
<path d="M312.2 302.2H347V304.2H355V305.4H363V306.7H370V307.9H377V308.9H392V310.4H400V311.9H436V313.4H440V314.7H452V316.9H461V318.9H464V320.9H473V323.9H513.8" fill="none" stroke="#0aee0a" stroke-width="2.4" stroke-linejoin="miter" stroke-linecap="butt"/>
<path d="M312.2 302.2H317V341.4H328.4V379.8H511" fill="none" stroke="#86cbe6" stroke-width="1.7" stroke-linejoin="miter" stroke-linecap="butt"/>
<path d="M365 376.3v7" stroke="#86cbe6" stroke-width="1.0" opacity="0.85" fill="none"/>
<path d="M389.6 396.5 L392.45 396.43 L395.3 396.22 L398.14 395.87 L400.97 395.38 L403.78 394.75 L406.58 393.98 L409.34 393.07 L412.08 392.03 L414.79 390.86 L417.46 389.55 L420.09 388.11 L422.68 386.54 L425.22 384.85 L427.71 383.03 L430.15 381.09 L432.53 379.03 L434.84 376.86 L437.09 374.57 L439.28 372.17 L441.39 369.67 L443.43 367.07 L445.39 364.36 L447.27 361.57 L449.07 358.68 L450.79 355.7 L452.42 352.64 L453.95 349.51 L455.4 346.3 L456.75 343.02 L458.01 339.68 L459.17 336.28 L460.23 332.82 L461.18 329.31 L462.04 325.76 L462.79 322.17 L463.44 318.54 L463.98 314.89 L464.42 311.21 L464.75 307.51 L464.97 303.8" fill="none" stroke="#cc2246" stroke-width="1.6"/>
<text x="459.8" y="360.6" font-size="11.7" fill="#1a1a1a" textLength="37.6" lengthAdjust="spacingAndGlyphs"><tspan font-style="italic">P</tspan>&lt;0.01</text>
<rect x="312.2" y="298.5" width="202.9" height="197.5" fill="none" stroke="#222" stroke-width="1.6"/>
<path d="M341.19 751.2v-3M341.19 553.9v3M370.17 751.2v-3M370.17 553.9v3M399.16 751.2v-3M399.16 553.9v3M428.14 751.2v-3M428.14 553.9v3M457.13 751.2v-3M457.13 553.9v3M486.11 751.2v-3M486.11 553.9v3M312.2 712.48h3M515.1 712.48h-3M312.2 673.76h3M515.1 673.76h-3M312.2 635.04h3M515.1 635.04h-3M312.2 596.32h3M515.1 596.32h-3M312.2 557.6h3M515.1 557.6h-3" stroke="#666" stroke-width="1" fill="none"/>
<text x="308.5" y="755.1" font-size="10.5" text-anchor="end" font-weight="normal" font-style="normal" fill="#1a1a1a">0.0</text>
<text x="308.5" y="716.38" font-size="10.5" text-anchor="end" font-weight="normal" font-style="normal" fill="#1a1a1a">0.2</text>
<text x="308.5" y="677.66" font-size="10.5" text-anchor="end" font-weight="normal" font-style="normal" fill="#1a1a1a">0.4</text>
<text x="308.5" y="638.94" font-size="10.5" text-anchor="end" font-weight="normal" font-style="normal" fill="#1a1a1a">0.6</text>
<text x="308.5" y="600.22" font-size="10.5" text-anchor="end" font-weight="normal" font-style="normal" fill="#1a1a1a">0.8</text>
<text x="308.5" y="558.8" font-size="10.5" text-anchor="end" font-weight="normal" font-style="normal" fill="#1a1a1a">1.0</text>
<text x="312" y="765.1" font-size="10.5" text-anchor="middle" font-weight="normal" font-style="normal" fill="#1a1a1a">0</text>
<text x="340.99" y="765.1" font-size="10.5" text-anchor="middle" font-weight="normal" font-style="normal" fill="#1a1a1a">10</text>
<text x="369.97" y="765.1" font-size="10.5" text-anchor="middle" font-weight="normal" font-style="normal" fill="#1a1a1a">20</text>
<text x="398.96" y="765.1" font-size="10.5" text-anchor="middle" font-weight="normal" font-style="normal" fill="#1a1a1a">30</text>
<text x="427.94" y="765.1" font-size="10.5" text-anchor="middle" font-weight="normal" font-style="normal" fill="#1a1a1a">40</text>
<text x="456.93" y="765.1" font-size="10.5" text-anchor="middle" font-weight="normal" font-style="normal" fill="#1a1a1a">50</text>
<text x="485.91" y="765.1" font-size="10.5" text-anchor="middle" font-weight="normal" font-style="normal" fill="#1a1a1a">60</text>
<text x="514.9" y="765.1" font-size="10.5" text-anchor="middle" font-weight="normal" font-style="normal" fill="#1a1a1a">70</text>
<text x="413.05" y="780" font-size="11.7" text-anchor="middle" font-weight="normal" font-style="normal" fill="#1a1a1a" textLength="150.4" lengthAdjust="spacingAndGlyphs">OS from enrollment (months)</text>
<text x="0" y="0" font-size="11.6" text-anchor="middle" fill="#1a1a1a" textLength="114.3" lengthAdjust="spacingAndGlyphs" transform="translate(282.5 659.1) rotate(-90)">Proportion of subjects</text>
<path d="M319.2 706.8H337.6" stroke="#eba12a" stroke-width="2.0"/>
<text x="346.2" y="709.9" font-size="10.1" text-anchor="start" font-weight="normal" font-style="normal" fill="#1a1a1a">p53 mut, aCNA &#8804;4 (n=13)</text>
<path d="M319.2 719H337.6" stroke="#690c6e" stroke-width="2.2"/>
<text x="346.2" y="722.1" font-size="10.1" text-anchor="start" font-weight="normal" font-style="normal" fill="#1a1a1a">p53 mut, aCNA &#8805;5 (n=11)</text>
<path d="M319.2 731H337.6" stroke="#0aee0a" stroke-width="2.4"/>
<text x="346.2" y="734.1" font-size="10.1" text-anchor="start" font-weight="normal" font-style="normal" fill="#1a1a1a">p53 WT, aCNA &#8804;4 (n=170)</text>
<path d="M319.2 741.7H337.6" stroke="#86cbe6" stroke-width="1.9"/>
<text x="346.2" y="744.8" font-size="10.1" text-anchor="start" font-weight="normal" font-style="normal" fill="#1a1a1a">p53 WT, aCNA &#8805;5 (n=4)</text>
<path d="M312.2 557.6H432.8V581.7H500" fill="none" stroke="#eba12a" stroke-width="1.9" stroke-linejoin="miter" stroke-linecap="butt"/>
<path d="M312.2 557.6H332.4V574.6H342V593H347V610H358V628H363V645.6H382.3V666.5H387.6V687.7H435.5V719.6H492.4" fill="none" stroke="#690c6e" stroke-width="2.2" stroke-linejoin="miter" stroke-linecap="butt"/>
<path d="M364 642.1v7" stroke="#690c6e" stroke-width="1.0" opacity="0.85" fill="none"/>
<path d="M420.7 684.2v7" stroke="#690c6e" stroke-width="1.0" opacity="0.85" fill="none"/>
<path d="M489.5 716.1v7" stroke="#690c6e" stroke-width="1.0" opacity="0.85" fill="none"/>
<path d="M349 555.1v9M353 555.1v9M354.3 555.1v9M356.72 556.3v9M358.02 556.3v9M362.57 556.3v9M363.87 557.6v9M365.17 557.6v9M370.65 558.8v9M371.95 558.8v9M375.26 558.8v9M378.41 559.8v9M379.71 559.8v9M384.23 559.8v9M385.53 559.8v9M386.83 559.8v9M391.83 559.8v9M394.69 561.3v9M395.99 561.3v9M400.15 562.8v9M404.75 562.8v9M406.05 562.8v9M410.97 562.8v9M412.27 562.8v9M416.62 562.8v9M417.92 562.8v9M421.32 562.8v9M425.44 562.8v9M426.74 562.8v9M429.27 562.8v9M432.91 562.8v9M434.21 562.8v9M438.36 564.3v9M439.66 564.3v9M443 565.6v9M444.3 565.6v9M447.67 565.6v9M451.24 565.6v9M452.54 567.8v9M456.01 567.8v9M457.31 567.8v9M460.28 567.8v9M462.74 569.8v9M464.04 571.8v9M466.55 571.8v9M467.85 571.8v9M470.68 571.8v9M471.98 571.8v9M474.91 574.8v9M476.21 574.8v9M478.73 574.8v9M480.03 574.8v9M483.61 574.8v9M486.19 574.8v9M487.49 574.8v9M489.81 574.8v9M491.11 574.8v9M494.17 574.8v9M495.47 574.8v9M498.26 574.8v9M499.56 574.8v9M500.86 574.8v9M500.8 574.8v9M501.8 574.8v9M502.8 574.8v9M503.8 574.8v9M504.8 574.8v9M505.8 574.8v9M506.8 574.8v9M507.8 574.8v9M508.8 574.8v9M509.8 574.8v9M510.8 574.8v9M511.8 574.8v9M512.8 574.8v9" stroke="#2ad42a" stroke-width="1" opacity="0.6" fill="none"/>
<path d="M312.2 557.6H347V559.6H355V560.8H363V562.1H370V563.3H377V564.3H392V565.8H400V567.3H436V568.8H440V570.1H452V572.3H461V574.3H464V576.3H473V579.3H513.8" fill="none" stroke="#0aee0a" stroke-width="2.4" stroke-linejoin="miter" stroke-linecap="butt"/>
<path d="M312.2 557.6H317V606H509.7" fill="none" stroke="#86cbe6" stroke-width="1.7" stroke-linejoin="miter" stroke-linecap="butt"/>
<path d="M366 602.5v7M386 602.5v7" stroke="#86cbe6" stroke-width="1.0" opacity="0.85" fill="none"/>
<path d="M389.6 676 L392.29 675.93 L394.97 675.71 L397.65 675.35 L400.31 674.85 L402.96 674.21 L405.59 673.42 L408.2 672.5 L410.77 671.44 L413.32 670.24 L415.83 668.9 L418.3 667.43 L420.73 665.83 L423.11 664.11 L425.44 662.25 L427.71 660.28 L429.93 658.18 L432.09 655.97 L434.19 653.64 L436.22 651.2 L438.18 648.66 L440.06 646.01 L441.88 643.26 L443.61 640.42 L445.26 637.49 L446.83 634.47 L448.31 631.37 L449.71 628.2 L451.01 624.95 L452.22 621.63 L453.34 618.26 L454.37 614.82 L455.29 611.33 L456.12 607.8 L456.85 604.22 L457.48 600.61 L458.01 596.97 L458.43 593.3 L458.75 589.61 L458.97 585.91 L459.08 582.2" fill="none" stroke="#cc2246" stroke-width="1.6"/>
<text x="453.6" y="640.6" font-size="11.7" fill="#1a1a1a" textLength="38.2" lengthAdjust="spacingAndGlyphs"><tspan font-style="italic">P</tspan>&lt;0.01</text>
<rect x="312.2" y="553.9" width="202.9" height="197.3" fill="none" stroke="#222" stroke-width="1.6"/>
</svg></body></html>
